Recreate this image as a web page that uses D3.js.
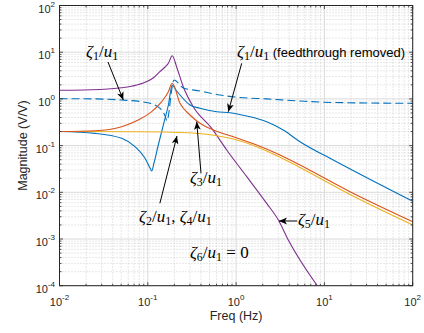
<!DOCTYPE html>
<html>
<head>
<meta charset="utf-8">
<script src="https://d3js.org/d3.v7.min.js"></script>
<style>
body { margin: 0; background: #fff; }
svg { display: block; font-family: "Liberation Sans", Arial, sans-serif; }
.math { font-family: "Liberation Serif", "DejaVu Serif", serif; font-size: 17px; fill: #000; }
</style>
</head>
<body>
<script>
var width = 424, height = 333;
var plotL = 59.5, plotR = 412.7, plotT = 5.5, plotB = 285.7;

// values: frequency (Hz) and magnitude (V/V)
var z5Freq = [0.01, 0.0288, 0.0445, 0.0628, 0.0889, 0.115, 0.137, 0.157, 0.171, 0.189, 0.214, 0.252, 0.327, 0.53, 0.783, 1.32, 2.22, 3.01, 3.9, 8.3];
var z5Mag  = [1.53, 1.59, 1.69, 1.84, 2.19, 2.80, 3.82, 4.82, 5.78, 8.41, 4.59, 1.82, 0.68, 0.234, 0.0805, 0.0216, 0.0058, 0.00255, 0.00095, 0.0001];

var z3Freq = [0.01, 0.0252, 0.0506, 0.078, 0.1107, 0.1437, 0.171, 0.189, 0.2316, 0.3005, 0.390, 0.552, 0.930, 1.711, 3.14, 5.29, 19.5, 100];
var z3Mag  = [0.200, 0.208, 0.254, 0.353, 0.532, 0.871, 1.426, 2.16, 0.805, 0.452, 0.300, 0.216, 0.155, 0.103, 0.0629, 0.0384, 0.0103, 0.00235];

var z24Freq = [0.01, 0.0816, 0.2316, 0.4645, 0.930, 1.711, 3.14, 5.29, 19.5, 100];
var z24Mag  = [0.200, 0.198, 0.191, 0.175, 0.138, 0.0947, 0.0562, 0.034, 0.00897, 0.0020];

var z1rFreq = [0.01, 0.0252, 0.0506, 0.0716, 0.0930, 0.106, 0.1107, 0.1175, 0.1315, 0.1498, 0.171, 0.189, 0.2086, 0.2316, 0.3005, 0.390, 0.603, 0.853, 1.32, 2.22, 3.42, 5.29, 12.6, 100];
var z1rMag  = [0.200, 0.183, 0.143, 0.0947, 0.0535, 0.0331, 0.0286, 0.0424, 0.103, 0.276, 0.740, 1.98, 1.55, 1.212, 0.740, 0.629, 0.532, 0.506, 0.430, 0.325, 0.216, 0.121, 0.0491, 0.00642];

var z1Freq = [0.01, 0.0252, 0.0506, 0.093, 0.126, 0.1437, 0.157, 0.165, 0.1738, 0.183, 0.198, 0.252, 0.390, 0.657, 1.107, 2.22, 5.29, 12.6, 100];
var z1Mag  = [1.01, 1.0, 0.947, 0.846, 0.705, 0.578, 0.430, 0.336, 0.524, 1.212, 2.54, 1.711, 1.476, 1.212, 1.072, 1.0, 0.902, 0.838, 0.805];

var xTickExp = [-2, -1, 0, 1, 2];
var yTickExp = [-4, -3, -2, -1, 0, 1, 2];

var series = [
  {f: z5Freq, m: z5Mag, color: "#7E2F8E", dash: null},
  {f: z1rFreq, m: z1rMag, color: "#0072BD", dash: null},
  {f: z1Freq, m: z1Mag, color: "#0072BD", dash: "8,4"},
  {f: z24Freq, m: z24Mag, color: "#EDB120", dash: null},
  {f: z3Freq, m: z3Mag, color: "#D95319", dash: null}
];

var x = d3.scaleLog().domain([0.01, 100]).range([plotL, plotR]);
var y = d3.scaleLog().domain([1e-4, 100]).range([plotB, plotT]);

var svg = d3.select("body").append("svg")
  .attr("width", width).attr("height", height);

var defs = svg.append("defs");
defs.append("clipPath").attr("id", "plotclip")
  .append("rect").attr("x", plotL).attr("y", plotT)
  .attr("width", plotR - plotL).attr("height", plotB - plotT);

// minor and major values
var xMinor = [], yMinor = [];
d3.range(-2, 2).forEach(function(e) { d3.range(2, 10).forEach(function(k) { xMinor.push(k * Math.pow(10, e)); }); });
d3.range(-4, 2).forEach(function(e) { d3.range(2, 10).forEach(function(k) { yMinor.push(k * Math.pow(10, e)); }); });
var xMajor = xTickExp.map(function(e) { return Math.pow(10, e); });
var yMajor = yTickExp.map(function(e) { return Math.pow(10, e); });

var grid = svg.append("g");
grid.selectAll(".xmin").data(xMinor).enter().append("line")
  .attr("x1", d => x(d)).attr("x2", d => x(d)).attr("y1", plotT).attr("y2", plotB)
  .attr("stroke", "#c4c4c4").attr("stroke-width", 0.8).attr("stroke-dasharray", "1,2");
grid.selectAll(".ymin").data(yMinor).enter().append("line")
  .attr("y1", d => y(d)).attr("y2", d => y(d)).attr("x1", plotL).attr("x2", plotR)
  .attr("stroke", "#c4c4c4").attr("stroke-width", 0.8).attr("stroke-dasharray", "1,2");
grid.selectAll(".xmaj").data(xMajor).enter().append("line")
  .attr("x1", d => x(d)).attr("x2", d => x(d)).attr("y1", plotT).attr("y2", plotB)
  .attr("stroke", "#dadada").attr("stroke-width", 1);
grid.selectAll(".ymaj").data(yMajor).enter().append("line")
  .attr("y1", d => y(d)).attr("y2", d => y(d)).attr("x1", plotL).attr("x2", plotR)
  .attr("stroke", "#dadada").attr("stroke-width", 1);

// curves
var line = d3.line()
  .x(d => x(d[0])).y(d => y(d[1]))
  .curve(d3.curveMonotoneX);
var curves = svg.append("g").attr("clip-path", "url(#plotclip)");
series.forEach(function(s) {
  var pts = s.f.map(function(f, i) { return [f, s.m[i]]; });
  curves.append("path").datum(pts)
    .attr("d", line)
    .attr("fill", "none")
    .attr("stroke", s.color)
    .attr("stroke-width", 1.1)
    .attr("stroke-dasharray", s.dash);
});

// box and ticks
var axisColor = "#262626";
svg.append("rect").attr("x", plotL).attr("y", plotT)
  .attr("width", plotR - plotL).attr("height", plotB - plotT)
  .attr("fill", "none").attr("stroke", axisColor).attr("stroke-width", 1);

var ticks = svg.append("g").attr("stroke", axisColor).attr("stroke-width", 0.8);
function xTicks(vals, len) {
  vals.forEach(function(v) {
    ticks.append("line").attr("x1", x(v)).attr("x2", x(v)).attr("y1", plotB).attr("y2", plotB - len);
    ticks.append("line").attr("x1", x(v)).attr("x2", x(v)).attr("y1", plotT).attr("y2", plotT + len);
  });
}
function yTicks(vals, len) {
  vals.forEach(function(v) {
    ticks.append("line").attr("y1", y(v)).attr("y2", y(v)).attr("x1", plotL).attr("x2", plotL + len);
    ticks.append("line").attr("y1", y(v)).attr("y2", y(v)).attr("x1", plotR).attr("x2", plotR - len);
  });
}
xTicks(xMinor, 2); xTicks(xMajor, 3.5);
yTicks(yMinor, 2); yTicks(yMajor, 3.5);

// tick labels
xTickExp.forEach(function(e) {
  var t = svg.append("text").attr("x", x(Math.pow(10, e))).attr("y", 306)
    .attr("text-anchor", "middle").attr("font-size", 11).attr("fill", axisColor);
  t.append("tspan").text("10");
  t.append("tspan").attr("dy", -6).attr("font-size", 8).text(e);
});
yTickExp.forEach(function(e) {
  var t = svg.append("text").attr("x", 55).attr("y", y(Math.pow(10, e)) + 7)
    .attr("text-anchor", "end").attr("font-size", 11).attr("fill", axisColor);
  t.append("tspan").text("10");
  t.append("tspan").attr("dy", -6).attr("font-size", 8).text(e);
});

svg.append("text").attr("x", (plotL + plotR) / 2).attr("y", 320)
  .attr("text-anchor", "middle").attr("font-size", 12.5).attr("fill", axisColor)
  .text("Freq (Hz)");
svg.append("text").attr("transform", "translate(27," + ((plotT + plotB) / 2) + ") rotate(-90)")
  .attr("text-anchor", "middle").attr("font-size", 12.5).attr("fill", axisColor)
  .text("Magnitude (V/V)");

// annotations (positions in data coordinates)
defs.append("marker").attr("id", "head")
  .attr("viewBox", "-9 -4 10 8").attr("refX", 0).attr("refY", 0)
  .attr("markerWidth", 10).attr("markerHeight", 8).attr("markerUnits", "userSpaceOnUse")
  .attr("orient", "auto")
  .append("path").attr("d", "M0,0 L-8,-3.4 L-6,0 L-8,3.4 Z").attr("fill", "#000");

var arrows = [
  [0.0354, 6.17, 0.0528, 0.947],
  [1.157, 5.78, 0.816, 0.532],
  [0.4004, 0.0255, 0.358, 0.325],
  [0.137, 0.00581, 0.214, 0.1606],
  [4.93, 0.00243, 3.06, 0.00243]
];
arrows.forEach(function(a) {
  svg.append("line").attr("x1", x(a[0])).attr("y1", y(a[1]))
    .attr("x2", x(a[2])).attr("y2", y(a[3]))
    .attr("stroke", "#000").attr("stroke-width", 1)
    .attr("marker-end", "url(#head)");
});

// label parts: [text, kind]; kind i = italic, s = subscript, r = roman, sans = plain text
function mathLabel(f, m, parts) {
  var t = svg.append("text").attr("class", "math").attr("x", x(f)).attr("y", y(m));
  var shift = 0;
  parts.forEach(function(p) {
    var s = t.append("tspan").text(p[0]);
    if (p[1] === "i") s.attr("font-style", "italic");
    if (p[1] === "sans") s.attr("font-family", "Liberation Sans, Arial, sans-serif").attr("font-size", 13);
    if (p[1] === "s") { s.attr("font-size", 12).attr("dy", 3 - shift); shift = 3; }
    else { s.attr("dy", -shift); shift = 0; }
  });
  return t;
}
var Z1 = [["ζ", "i"], ["1", "s"], ["/", "r"], ["u", "i"], ["1", "s"]];
mathLabel(0.02, 7.8, Z1);
mathLabel(1.024, 7.8, Z1.concat([[" (feedthrough removed)", "sans"]]));
mathLabel(0.30, 0.0158, [["ζ", "i"], ["3", "s"], ["/", "r"], ["u", "i"], ["1", "s"]]);
mathLabel(0.0795, 0.00235, [["ζ", "i"], ["2", "s"], ["/", "r"], ["u", "i"], ["1", "s"], [", ", "r"], ["ζ", "i"], ["4", "s"], ["/", "r"], ["u", "i"], ["1", "s"]]);
mathLabel(5.02, 0.002, [["ζ", "i"], ["5", "s"], ["/", "r"], ["u", "i"], ["1", "s"]]);
mathLabel(0.30, 0.0004, [["ζ", "i"], ["6", "s"], ["/", "r"], ["u", "i"], ["1", "s"], ["\u00a0=\u00a00", "r"]]);
</script>
</body>
</html>
